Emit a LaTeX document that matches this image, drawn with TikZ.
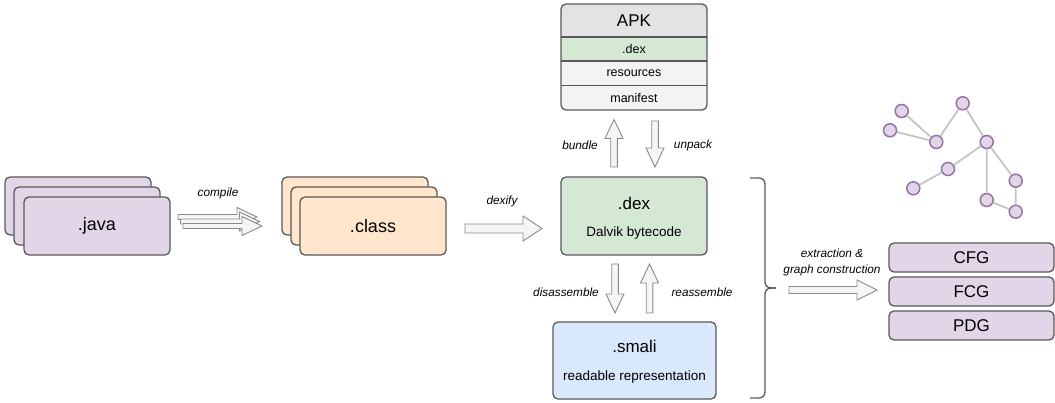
\documentclass[tikz,border=0pt]{standalone}
\usepackage{fontspec}
\setmainfont{Liberation Sans}
\definecolor{stk}{HTML}{595959}
\definecolor{javaf}{HTML}{E1D5E7}
\definecolor{classf}{HTML}{FFE6CC}
\definecolor{dexf}{HTML}{D5E8D4}
\definecolor{smalif}{HTML}{DAE8FC}
\definecolor{apkh}{HTML}{E3E3E3}
\definecolor{apkr}{HTML}{F3F3F3}
\definecolor{arrf}{HTML}{F5F5F5}
\definecolor{arrs}{HTML}{8A8A8A}
\definecolor{gnode}{HTML}{9673A6}
\definecolor{gedge}{HTML}{C4C4C4}
\newcommand\harrow[6]{% xtail, xtip, y, bodyhalf, headhalf, headlen
  \draw[barrow] (#1,#3-#4) -- (#2-#6,#3-#4) -- (#2-#6,#3-#5) -- (#2,#3)
    -- (#2-#6,#3+#5) -- (#2-#6,#3+#4) -- (#1,#3+#4) -- cycle;}
\newcommand\varrow[6]{% x, ytail, ytip, yheadbase, bodyhalf, headhalf
  \draw[barrow] (#1-#5,#2) -- (#1-#5,#4) -- (#1-#6,#4) -- (#1,#3)
    -- (#1+#6,#4) -- (#1+#5,#4) -- (#1+#5,#2) -- cycle;}
\tikzset{
  box/.style={draw=stk, line width=1.3pt, rounded corners=5pt, inner sep=0pt,
    minimum width=146pt, minimum height=58pt},
  barrow/.style={draw=arrs, fill=arrf, line width=0.9pt, line join=miter},
  bigtxt/.style={inner sep=0pt, font=\fontsize{17}{20}\selectfont},
  hugetxt/.style={inner sep=0pt, font=\fontsize{18}{21}\selectfont},
  subtxt/.style={inner sep=0pt, font=\fontsize{13.5}{15}\selectfont},
  rowtxt/.style={inner sep=0pt, font=\fontsize{12.5}{14}\selectfont},
  lbl/.style={inner sep=0pt, font=\fontsize{11.8}{13}\selectfont\itshape},
  gn/.style={circle, draw=gnode, fill=javaf, line width=1.5pt, minimum size=13pt, inner sep=0pt},
  ge/.style={draw=gedge, line width=1.8pt},
}
\begin{document}
\begin{tikzpicture}[x=1pt, y=-1pt]
\useasboundingbox (0,0) rectangle (1055,403);

% .java stack
\node[box, fill=javaf] (java1) at (78,206) {};
\node[box, fill=javaf] (java2) at (87,216) {};
\node[box, fill=javaf, hugetxt] (java3) at (97,226) {.java};

% compile arrows
\harrow{178}{257}{217}{2.5}{9.5}{20}
\harrow{180.5}{259.5}{221.5}{2.5}{9.5}{20}
\harrow{183}{262}{226}{2.5}{9.5}{20}
\node[lbl] (compile) at (218,193) {compile};

% .class stack
\node[box, fill=classf] (class1) at (355,206) {};
\node[box, fill=classf] (class2) at (364,216) {};
\node[box, fill=classf, hugetxt] (class3) at (373,226) {.class};

% dexify
\harrow{465}{542}{228.5}{4.5}{12.5}{19}
\node[lbl] (dexify) at (502,201) {dexify};

% APK
\begin{scope}
  \clip[rounded corners=5pt] (561,4) rectangle (707,110);
  \fill[apkh] (561,4) rectangle (707,37);
  \fill[dexf] (561,37) rectangle (707,61);
  \fill[apkr] (561,61) rectangle (707,110);
\end{scope}
\draw[stk, line width=1.3pt] (561,37) -- (707,37) (561,61) -- (707,61) (561,85.5) -- (707,85.5);
\node[box, minimum height=106pt] (apk) at (634,57) {};
\node[bigtxt] (apkt) at (634,21) {APK};
\node[rowtxt] (apkdex) at (634,49) {.dex};
\node[rowtxt] (apkres) at (634,73.5) {resources};
\node[rowtxt] (apkman) at (634,98) {manifest};

% bundle / unpack
\varrow{614}{167}{119.5}{138.5}{3.3}{9}
\varrow{655}{121}{167}{148}{3.3}{9}
\node[lbl] (bundle) at (580,145) {bundle};
\node[lbl] (unpack) at (693,145) {unpack};

% .dex
\node[box, fill=dexf, minimum height=78pt] (dex) at (634,216) {};
\node[bigtxt] (dext) at (634,203) {.dex};
\node[subtxt] (dexs) at (634,233) {Dalvik bytecode};

% disassemble / reassemble
\varrow{615}{264}{313}{294}{3.3}{9}
\varrow{649.5}{313}{264}{283}{3.3}{9}
\node[lbl] (disasm) at (566,292) {disassemble};
\node[lbl] (reasm) at (702,292) {reassemble};

% .smali
\node[box, fill=smalif, minimum width=163pt, minimum height=77pt] (smali) at (634.5,360.5) {};
\node[bigtxt] (smalit) at (634.5,346) {.smali};
\node[subtxt] (smalis) at (634.5,377) {readable representation};

% brace
\draw[stk, line width=1.3pt, rounded corners=6pt]
  (750,178) -- (765,178) -- (765,288) -- (776,288);
\draw[stk, line width=1.3pt, rounded corners=6pt]
  (750,398) -- (765,398) -- (765,288) -- (776,288);
\coordinate (bracetip) at (776,288);

% extraction arrow
\harrow{789}{877}{290}{3.5}{10}{20}
\node[lbl] (ext1) at (832,253) {extraction \&};
\node[lbl] (ext2) at (832,270) {graph construction};

% graphs
\node[box, fill=javaf, minimum width=165pt, minimum height=29pt, bigtxt] (cfg) at (971.5,257.5) {CFG};
\node[box, fill=javaf, minimum width=165pt, minimum height=29pt, bigtxt] (fcg) at (971.5,291.5) {FCG};
\node[box, fill=javaf, minimum width=165pt, minimum height=29pt, bigtxt] (pdg) at (971.5,325.5) {PDG};

% small graph
\node[gn] (g1) at (901.7,111) {};
\node[gn] (g2) at (890,130.3) {};
\node[gn] (g3) at (936.3,142) {};
\node[gn] (g4) at (962.7,103.3) {};
\node[gn] (g5) at (986.7,142) {};
\node[gn] (g6) at (948,169) {};
\node[gn] (g7) at (913.3,188.3) {};
\node[gn] (g8) at (1015.7,180.7) {};
\node[gn] (g9) at (986.7,200) {};
\node[gn] (g10) at (1015.7,211.7) {};
\path[ge] (g1) -- (g3) (g2) -- (g3) (g3) -- (g4) (g4) -- (g5) (g5) -- (g6)
  (g6) -- (g7) (g5) -- (g9) (g5) -- (g8) (g8) -- (g10) (g9) -- (g10);
\end{tikzpicture}
\end{document}
